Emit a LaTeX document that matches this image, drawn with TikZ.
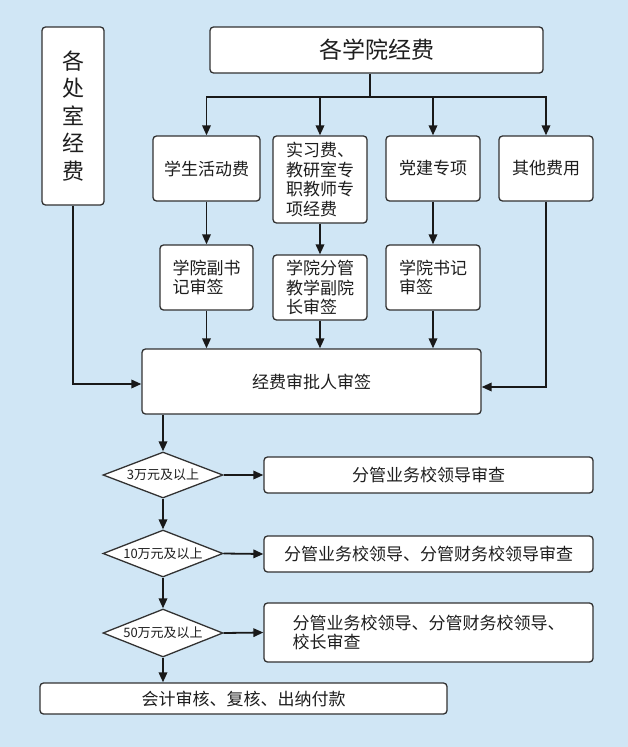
\documentclass[tikz,border=0pt]{standalone}
\usepackage{fontspec}
\setmainfont{Noto Sans CJK SC}
\usetikzlibrary{shapes.geometric,arrows.meta}
\definecolor{bgblue}{RGB}{208,230,245}
\definecolor{boxline}{RGB}{50,50,50}
\definecolor{inkline}{RGB}{25,25,25}
\definecolor{inktext}{RGB}{30,30,30}
\tikzset{
  box/.style={draw=boxline,fill=white,line width=1.3pt,rounded corners=3.5pt,
    inner sep=0pt,text=inktext,font=\fontsize{17}{19.5}\selectfont},
  cond/.style={draw=boxline,fill=white,line width=1.3pt,diamond,aspect=2.6,
    inner sep=0pt,minimum width=120pt,text=inktext,font=\fontsize{13}{15}\selectfont},
  flow/.style={draw=inkline,line width=1.8pt,-{Triangle[length=10pt,width=8.5pt]}},
  bus/.style={draw=inkline,line width=1.8pt}
}

\begin{document}
\begin{tikzpicture}[x=1pt,y=-1pt]
                   \fill[bgblue] (0,0) rectangle (628,747);
                   \useasboundingbox (0,0) rectangle (628,747);
                   % top row
                   \node[box,minimum width=62pt,minimum height=178pt,align=center,
                         font=\fontsize{22}{27.5}\selectfont] (chu) at (73,116) {各\\处\\室\\经\\费};
                   \node[box,minimum width=333pt,minimum height=46pt,
                         font=\fontsize{23}{27}\selectfont] (yuan) at (376.5,50) {各学院经费};
                   \coordinate (fork) at (370,97);
                   % expense kinds
                   \node[box,minimum width=107pt,minimum height=65pt] (huodong) at (206.5,168.5) {学生活动费};
                   \node[box,minimum width=94pt,minimum height=87pt,text width=68pt,align=left] (shixi) at (320,179.5)
                         {实习费、\\教研室专\\职教师专\\项经费};
                   \node[box,minimum width=94pt,minimum height=65pt] (dangjian) at (433,168.5) {党建专项};
                   \node[box,minimum width=94pt,minimum height=65pt] (qita) at (546,168.5) {其他费用};
                   % signers
                   \node[box,minimum width=93pt,minimum height=65pt,text width=68pt,align=left] (fushuji) at (206.5,277.5)
                         {学院副书\\记审签};
                   \node[box,minimum width=94pt,minimum height=65pt,text width=68pt,align=left] (fenguan) at (320,287.5)
                         {学院分管\\教学副院\\长审签};
                   \node[box,minimum width=94pt,minimum height=65pt,text width=68pt,align=left] (shuji) at (433,277.5)
                         {学院书记\\审签};
                   \node[box,minimum width=339pt,minimum height=65pt] (shenpi) at (311.5,381.5) {经费审批人审签};
                   % amount checks
                   \node[cond,minimum height=46pt] (d_3) at (163,475) {3万元及以上};
                   \node[cond,minimum height=47pt] (d_10) at (163,553.5) {10万元及以上};
                   \node[cond,minimum height=48pt] (d_50) at (163,633) {50万元及以上};
                   \node[box,minimum width=329pt,minimum height=36pt] (r_3) at (428.5,475) {分管业务校领导审查};
                   \node[box,minimum width=329pt,minimum height=36pt] (r_10) at (428.5,554) {分管业务校领导、分管财务校领导审查};
                   \node[box,minimum width=329pt,minimum height=59pt,text width=272pt,align=left] (r_50) at (428.5,632.5)
                         {分管业务校领导、分管财务校领导、\\校长审查};
                   \node[box,minimum width=407pt,minimum height=31pt] (kuaiji) at (243.5,698.5) {会计审核、复核、出纳付款};
                    % connectors
                    \path[bus] (yuan.south -| fork) -- (fork);
                    \foreach \k in {huodong,shixi,dangjian,qita}
                      \path[flow] (fork) -| (\k.north);
                    \path[flow] (huodong) -- (fushuji);
                    \path[flow] (shixi) -- (fenguan);
                    \path[flow] (dangjian) -- (shuji);
                    \foreach \k in {fushuji,fenguan,shuji}
                      \path[flow] (\k.south) -- (\k.south |- shenpi.north);
                    \path[flow] (chu.south) |- ([yshift=-2.5pt]shenpi.west);
                    \path[flow] (qita.south) |- ([yshift=-5.5pt]shenpi.east);
                    \path[flow] (shenpi.south -| d_3) -- (d_3.north);
                    \path[flow] (d_3) -- (d_10);
                    \path[flow] (d_10) -- (d_50);
                    \path[flow] (d_50.south) -- (d_50.south |- kuaiji.north);
                    \path[flow] (d_3.east) -- (r_3.west);
                    \path[flow] (d_10.east) -- (r_10.west);
                    \path[flow] (d_50.east) -- (r_50.west);
\end{tikzpicture}
\end{document}
